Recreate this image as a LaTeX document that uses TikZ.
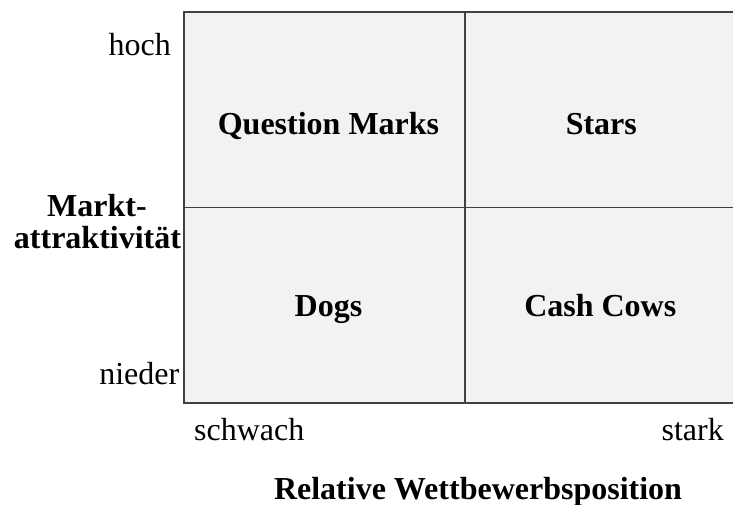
\documentclass[tikz,border=0pt]{standalone}
\usepackage{fontspec}
\setmainfont{Liberation Serif}
\begin{document}
\begin{tikzpicture}[x=1pt,y=-1pt,
  lbl/.style={inner sep=0pt,font=\fontsize{32}{36}\selectfont},
  blbl/.style={inner sep=0pt,font=\fontsize{32}{36}\selectfont\bfseries},
  gridline/.style={draw=black!75,line width=1.5pt}]
\useasboundingbox (0,0) rectangle (733,505);
\begin{scope}
\clip (0,0) rectangle (733,505);
\fill[black!5] (184,12) rectangle (746,403);
\draw[gridline] (746,12) -- (184,12) -- (184,403) -- (746,403);
\draw[gridline] (465,12) -- (465,403);
\draw[gridline] (184,207.7) -- (746,207.7);
\end{scope}
\node[blbl,anchor=base] (qm) at (328.5,134.3) {Question Marks};
\node[blbl,anchor=base] (st) at (601.3,134.3) {Stars};
\node[blbl,anchor=base] (dg) at (328.5,316.7) {Dogs};
\node[blbl,anchor=base] (cc) at (600.3,316.7) {Cash Cows};
\node[lbl,anchor=base east] (hoch) at (171,56) {hoch};
\node[lbl,anchor=base east] (nieder) at (179.5,384) {nieder};
\node[blbl,anchor=base] (m1) at (97,216.7) {Markt-};
\node[blbl,anchor=base] (m2) at (97.5,248.7) {attraktivität};
\node[lbl,anchor=base west] (schwach) at (194,440.7) {schwach};
\node[lbl,anchor=base east] (stark) at (724,440.7) {stark};
\node[blbl,anchor=base] (rw) at (478,499.3) {Relative Wettbewerbsposition};
\end{tikzpicture}
\end{document}
